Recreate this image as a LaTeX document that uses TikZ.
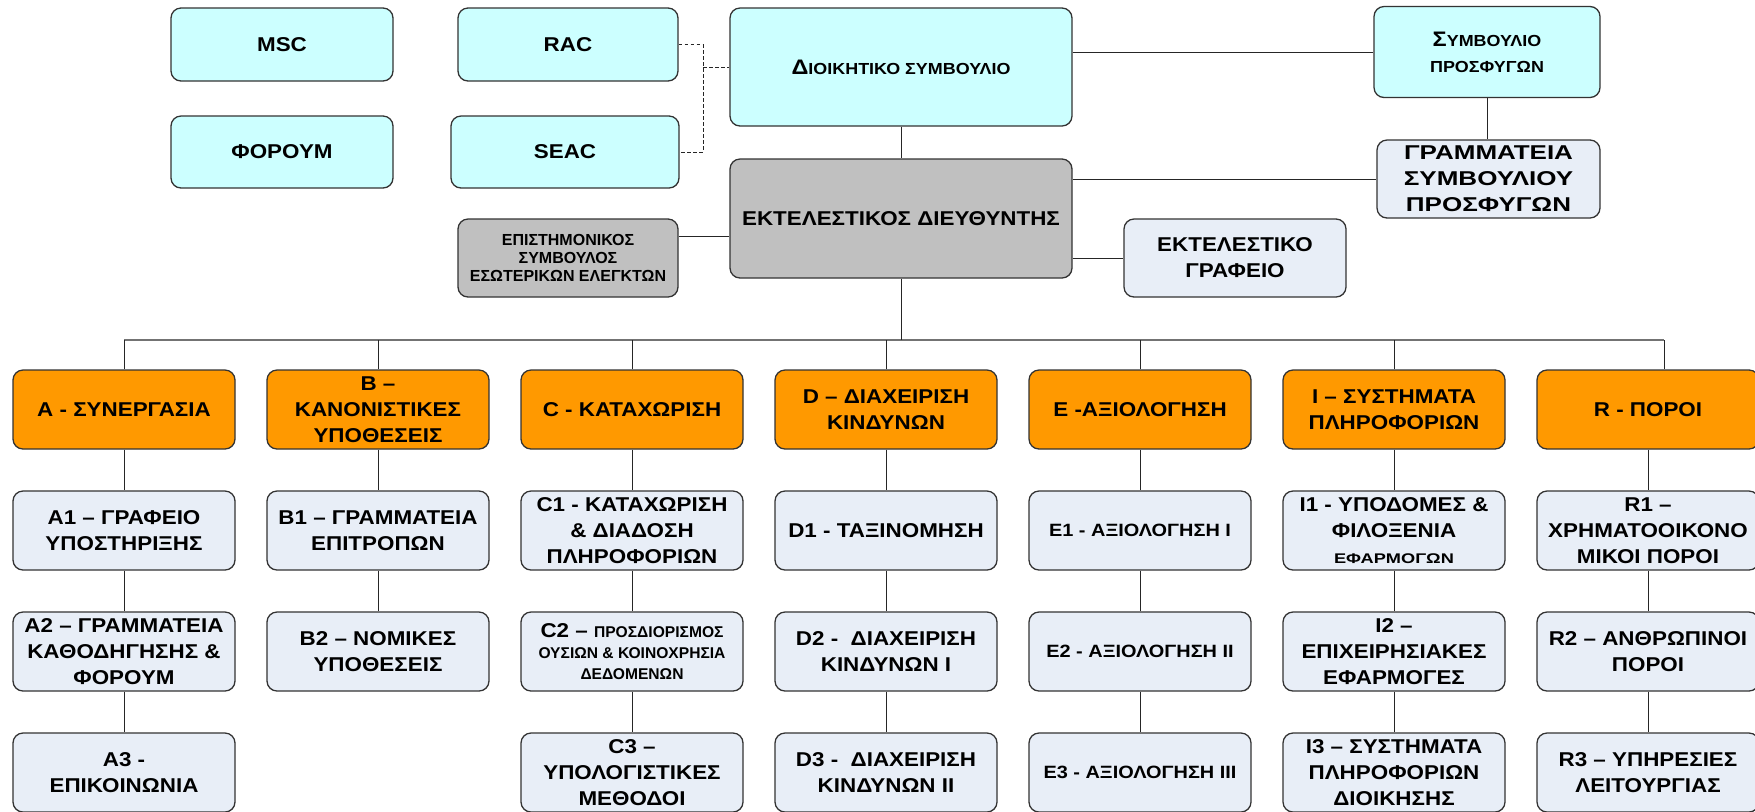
\documentclass[tikz,border=0pt]{standalone}
\usepackage{fontspec}
\setmainfont{Liberation Sans}[FakeStretch=1.12]
\newfontfamily\plainfnt{Liberation Sans}
\newfontfamily\widefnt{Liberation Sans}[FakeStretch=1.3]
\definecolor{cyanfill}{HTML}{CCFFFF}
\definecolor{orangefill}{HTML}{FF9900}
\definecolor{palefill}{HTML}{E8EEF7}
\definecolor{greyfill}{HTML}{C0C0C0}
\newcommand{\mainsz}{\fontsize{10}{13}\selectfont}
\newcommand{\capbig}{\fontsize{10.5}{13}\selectfont}
\newcommand{\capsml}{\fontsize{8}{13}\selectfont}
\newcommand{\tinysz}{\plainfnt\fontsize{7.8}{10.5}\selectfont}
\begin{document}
\begin{tikzpicture}[x=0.5pt,y=-0.5pt,
    box/.style={draw=black!80,line width=0.65pt,rounded corners=5pt,align=center,
      inner sep=1pt,minimum width=111pt,minimum height=39.5pt,font=\bfseries\mainsz},
    cyanbox/.style={box,fill=cyanfill},
    orangebox/.style={box,fill=orangefill},
    palebox/.style={box,fill=palefill},
    greybox/.style={box,fill=greyfill},
    conn/.style={draw=black!85,line width=0.5pt},
    busline/.style={draw=black!55,line width=1pt},
    dashconn/.style={conn,dash pattern=on 1.8pt off 1.2pt}]
            \useasboundingbox (0,0) rectangle (1755,811);
            % board level
            \node[cyanbox,minimum height=36.5pt] (msc) at (282,44.5) {MSC};
            \node[cyanbox,minimum height=36pt] (forum) at (282,152) {ΦΟΡΟΥΜ};
            \node[cyanbox,minimum width=110pt,minimum height=36.5pt] (rac) at (568,44.5) {RAC};
            \node[cyanbox,minimum width=114pt,minimum height=36pt] (seac) at (565,152) {SEAC};
            \node[cyanbox,minimum width=171pt,minimum height=59pt] (board) at (901,67) {{\capbig Δ}{\capsml ΙΟΙΚΗΤΙΚΟ ΣΥΜΒΟΥΛΙΟ}};
            \node[cyanbox,minimum width=113pt,minimum height=45.5pt,font=\bfseries\capsml] (appeal) at (1487,52) {{\capbig Σ}ΥΜΒΟΥΛΙΟ\\ΠΡΟΣΦΥΓΩΝ};
            \node[palebox,minimum width=111.5pt,minimum height=39pt,font=\bfseries\widefnt\mainsz] (appsec) at (1488.5,179) {ΓΡΑΜΜΑΤΕΙΑ\\ΣΥΜΒΟΥΛΙΟΥ\\ΠΡΟΣΦΥΓΩΝ};
            \node[greybox,minimum width=171pt,minimum height=59.5pt] (exdir) at (901,218.5) {ΕΚΤΕΛΕΣΤΙΚΟΣ ΔΙΕΥΘΥΝΤΗΣ};
            \node[greybox,minimum width=110pt,minimum height=39pt,font=\bfseries\plainfnt\fontsize{8}{9}\selectfont] (sci) at (568,258) {ΕΠΙΣΤΗΜΟΝΙΚΟΣ\\ΣΥΜΒΟΥΛΟΣ\\ΕΣΩΤΕΡΙΚΩΝ ΕΛΕΓΚΤΩΝ};
            \node[palebox,minimum height=39pt] (exoff) at (1235,258) {ΕΚΤΕΛΕΣΤΙΚΟ\\ΓΡΑΦΕΙΟ};
            \coordinate (jn) at (703,67);
            \draw[dashconn] (rac.east) -| (jn) |- (seac.east);
            \draw[dashconn] (jn) -- (board.west);
            \draw[conn] (board) -- (exdir);
            \draw[conn] (board.east |- appeal.west) -- (appeal.west);
            \draw[conn] (appeal.south) -- (appeal.south |- appsec.north);
            \draw[conn] (exdir.east |- appsec.west) -- (appsec.west);
            \draw[conn] (exdir.east |- exoff.west) -- (exoff.west);
            \draw[conn] (sci.11) -- (sci.11 -| exdir.west);
            % departments
            \node[orangebox] (A) at (124,409.5) {A - ΣΥΝΕΡΓΑΣΙΑ};
            \node[orangebox] (B) at (378,409.5) {B –\\ΚΑΝΟΝΙΣΤΙΚΕΣ\\ΥΠΟΘΕΣΕΙΣ};
            \node[orangebox] (C) at (632,409.5) {C - ΚΑΤΑΧΩΡΙΣΗ};
            \node[orangebox] (D) at (886,409.5) {D – ΔΙΑΧΕΙΡΙΣΗ\\ΚΙΝΔΥΝΩΝ};
            \node[orangebox] (E) at (1140,409.5) {E -ΑΞΙΟΛΟΓΗΣΗ};
            \node[orangebox] (I) at (1394,409.5) {I – ΣΥΣΤΗΜΑΤΑ\\ΠΛΗΡΟΦΟΡΙΩΝ};
            \node[orangebox] (R) at (1648,409.5) {R - ΠΟΡΟΙ};
            \coordinate (busL) at (124,340);
            \coordinate (busR) at (1664,340);
            \draw[busline] (busL) -- (busR);
            \draw[conn] (exdir) -- (exdir |- busL);
            \draw[conn] (A) -- (A |- busL);
            \draw[conn] (B) -- (B |- busL);
            \draw[conn] (C) -- (C |- busL);
            \draw[conn] (D) -- (D |- busL);
            \draw[conn] (E) -- (E |- busL);
            \draw[conn] (I) -- (I |- busL);
            \draw[conn] (busR) -- (busR |- R.north);
            % units
            \node[palebox] (A1) at (124,530.5) {A1 – ΓΡΑΦΕΙΟ\\ΥΠΟΣΤΗΡΙΞΗΣ};
            \node[palebox] (A2) at (124,651.5) {A2 – ΓΡΑΜΜΑΤΕΙΑ\\ΚΑΘΟΔΗΓΗΣΗΣ \&\\ΦΟΡΟΥΜ};
            \node[palebox] (A3) at (124,772.5) {A3 -\\ΕΠΙΚΟΙΝΩΝΙΑ};
            \node[palebox] (B1) at (378,530.5) {B1 – ΓΡΑΜΜΑΤΕΙΑ\\ΕΠΙΤΡΟΠΩΝ};
            \node[palebox] (B2) at (378,651.5) {B2 – ΝΟΜΙΚΕΣ\\ΥΠΟΘΕΣΕΙΣ};
            \node[palebox] (C1) at (632,530.5) {C1 - ΚΑΤΑΧΩΡΙΣΗ\\\& ΔΙΑΔΟΣΗ\\ΠΛΗΡΟΦΟΡΙΩΝ};
            \node[palebox,font=\bfseries\fontsize{10}{10.5}\selectfont] (C2) at (632,651.5) {C2 – {\tinysz ΠΡΟΣΔΙΟΡΙΣΜΟΣ}\\{\tinysz ΟΥΣΙΩΝ \& ΚΟΙΝΟΧΡΗΣΙΑ}\\{\tinysz ΔΕΔΟΜΕΝΩΝ}};
            \node[palebox] (C3) at (632,772.5) {C3 –\\ΥΠΟΛΟΓΙΣΤΙΚΕΣ\\ΜΕΘΟΔΟΙ};
            \node[palebox] (D1) at (886,530.5) {D1 - ΤΑΞΙΝΟΜΗΣΗ};
            \node[palebox] (D2) at (886,651.5) {D2 - \ ΔΙΑΧΕΙΡΙΣΗ\\ΚΙΝΔΥΝΩΝ I};
            \node[palebox] (D3) at (886,772.5) {D3 - \ ΔΙΑΧΕΙΡΙΣΗ\\ΚΙΝΔΥΝΩΝ II};
            \node[palebox,font=\bfseries\fontsize{8.9}{13}\selectfont] (E1) at (1140,530.5) {E1 - ΑΞΙΟΛΟΓΗΣΗ I};
            \node[palebox,font=\bfseries\fontsize{8.9}{13}\selectfont] (E2) at (1140,651.5) {E2 - ΑΞΙΟΛΟΓΗΣΗ II};
            \node[palebox,font=\bfseries\fontsize{8.9}{13}\selectfont] (E3) at (1140,772.5) {E3 - ΑΞΙΟΛΟΓΗΣΗ III};
            \node[palebox] (I1) at (1394,530.5) {I1 - ΥΠΟΔΟΜΕΣ \&\\ΦΙΛΟΞΕΝΙΑ\\{\widefnt\fontsize{7}{13}\selectfont ΕΦΑΡΜΟΓΩΝ}};
            \node[palebox] (I2) at (1394,651.5) {I2 –\\ΕΠΙΧΕΙΡΗΣΙΑΚΕΣ\\ΕΦΑΡΜΟΓΕΣ};
            \node[palebox] (I3) at (1394,772.5) {I3 – ΣΥΣΤΗΜΑΤΑ\\ΠΛΗΡΟΦΟΡΙΩΝ\\ΔΙΟΙΚΗΣΗΣ};
            \node[palebox] (R1) at (1648,530.5) {R1 –\\ΧΡΗΜΑΤΟΟΙΚΟΝΟ\\ΜΙΚΟΙ ΠΟΡΟΙ};
            \node[palebox] (R2) at (1648,651.5) {R2 – ΑΝΘΡΩΠΙΝΟΙ\\ΠΟΡΟΙ};
            \node[palebox] (R3) at (1648,772.5) {R3 – ΥΠΗΡΕΣΙΕΣ\\ΛΕΙΤΟΥΡΓΙΑΣ};
            \draw[conn] (A) -- (A1) -- (A2) -- (A3);
            \draw[conn] (B) -- (B1) -- (B2);
            \draw[conn] (C) -- (C1) -- (C2) -- (C3);
            \draw[conn] (D) -- (D1) -- (D2) -- (D3);
            \draw[conn] (E) -- (E1) -- (E2) -- (E3);
            \draw[conn] (I) -- (I1) -- (I2) -- (I3);
            \draw[conn] (R) -- (R1) -- (R2) -- (R3);
\end{tikzpicture}
\end{document}
